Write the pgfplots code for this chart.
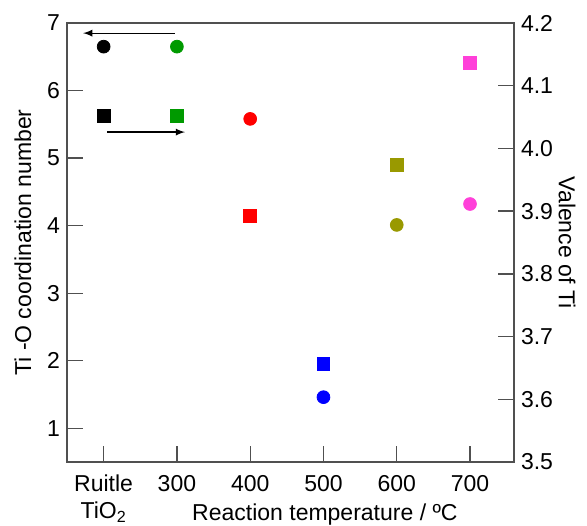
\documentclass[border=0pt]{standalone}
\usepackage{fontspec}
\setmainfont{Liberation Sans}
\usepackage{pgfplots}
\pgfplotsset{compat=1.18}
\definecolor{axgray}{HTML}{505050}
\definecolor{cgreen}{HTML}{009A00}
\definecolor{colive}{HTML}{999900}
\definecolor{cmag}{HTML}{FF40D9}

\pgfplotsset{
  tempaxis/.style={
    scale only axis, width=223.5pt, height=219.5pt,
    at={(0,0)}, anchor=south west,
    xmin=150, xmax=760,
    font=\fontsize{11.5}{13.5}\selectfont,
    axis line style={axgray, line width=0.65pt},
    tick style={axgray, line width=0.65pt},
    major tick length=8pt, tick align=inside,
    /pgf/number format/assume math mode=true,
    scatter/classes={
      k={draw=black, fill=black},
      g={draw=cgreen, fill=cgreen},
      r={draw=red, fill=red},
      b={draw=blue, fill=blue},
      o={draw=colive, fill=colive},
      m={draw=cmag, fill=cmag}},
  },
}

\begin{document}
\begin{tikzpicture}
\begin{axis}[tempaxis,
  ymin=0.5, ymax=7,
  ytick={1,2,...,7}, ytick pos=left,
  xtick={200,300,400,500,600,700}, xtick pos=bottom,
  xticklabels={{Ruitle\\TiO\textsubscript{2}},300,400,500,600,700},
  xticklabel style={align=center, anchor=north, yshift=-3pt},
  xlabel={Reaction temperature / ºC},
  xlabel style={at={(axis description cs:0.577,0)}, anchor=base, yshift=-29pt},
  ylabel={Ti -O coordination number},
  ylabel style={at={(axis description cs:0,0.5)}, anchor=center, yshift=22pt},
]
\addplot[scatter, only marks, mark=*, mark size=3.2pt, scatter src=explicit symbolic]
  table[meta=c] {
x y c
200 6.65 k
300 6.65 g
400 5.58 r
500 1.46 b
600 4.01 o
700 4.32 m
};
\draw[-latex, black, line width=0.6pt] (axis cs:297,6.85) -- (axis cs:172,6.85);
\draw[-latex, black, line width=0.6pt] (axis cs:205,5.385) -- (axis cs:311,5.385);
\end{axis}

\begin{axis}[tempaxis,
  ymin=3.5, ymax=4.2,
  axis y line*=right, axis x line=none,
  ytick={3.5,3.6,...,4.2},
  yticklabel style={/pgf/number format/.cd, fixed, fixed zerofill, precision=1},
  ylabel={Valence of Ti},
  ylabel style={at={(axis description cs:1,0.5)}, anchor=center, rotate=180, yshift=26.5pt},
]
\addplot[scatter, only marks, mark=square*, mark size=3.2pt, scatter src=explicit symbolic]
  table[meta=c] {
x y c
200 4.052 k
300 4.052 g
400 3.893 r
500 3.656 b
600 3.974 o
700 4.136 m
};
\end{axis}
\pgfresetboundingbox
\path (-33.5pt,-31.5pt) rectangle (260pt,231pt);
\end{tikzpicture}
\end{document}
